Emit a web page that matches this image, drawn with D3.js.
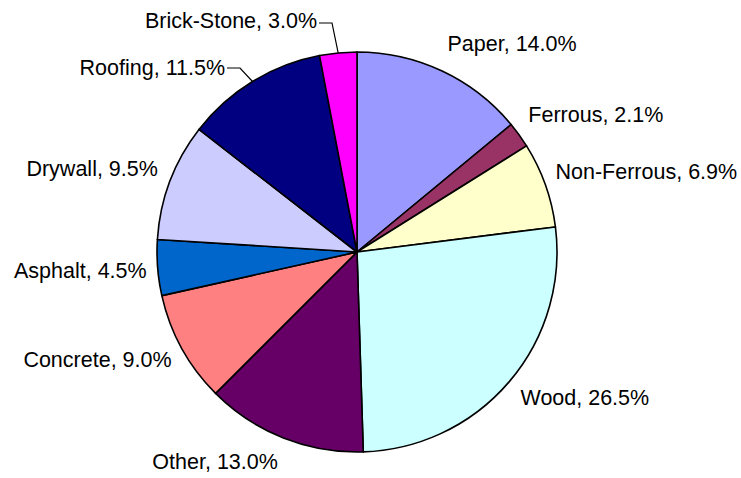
<!DOCTYPE html>
<html>
<head>
<meta charset="utf-8">
<script src="https://cdn.jsdelivr.net/npm/d3@7"></script>
<style>
  html, body { margin: 0; padding: 0; background: #fff; }
  text { font-family: "Liberation Sans", Arial, sans-serif; font-size: 21.5px; fill: #000; }
</style>
</head>
<body>
<svg id="chart" width="741" height="478"></svg>
<script>
// Waste composition by material (percent of total)
const categories = ["Paper", "Ferrous", "Non-Ferrous", "Wood", "Other", "Concrete", "Asphalt", "Drywall", "Roofing", "Brick-Stone"];
const shares = [14.0, 2.1, 6.9, 26.5, 13.0, 9.0, 4.5, 9.5, 11.5, 3.0];
const colors = ["#9999FF", "#993366", "#FFFFCC", "#CCFFFF", "#660066", "#FF8080", "#0066CC", "#CCCCFF", "#000080", "#FF00FF"];

const width = 741, height = 478;
const cx = 357, cy = 252, radius = 200;

const svg = d3.select("#chart");
const g = svg.append("g").attr("transform", `translate(${cx},${cy})`);

const data = categories.map((c, i) => ({ name: c, value: shares[i], color: colors[i] }));

const pie = d3.pie().value(d => d.value).sort(null);
const arc = d3.arc().innerRadius(0).outerRadius(radius);
const arcs = pie(data);

g.selectAll("path.slice")
  .data(arcs)
  .join("path")
  .attr("class", "slice")
  .attr("d", arc)
  .attr("fill", d => d.data.color)
  .attr("stroke", "#000")
  .attr("stroke-width", 1.6)
  .attr("stroke-linejoin", "round");

// Label placement: most labels sit just outside the rim at the slice midpoint;
// the two narrow top-left slices get leader lines.
const leaders = {
  "Brick-Stone": { textEnd: [317, 28], elbow: [332, 23], lineEnd: [319, 23] },
  "Roofing": { textEnd: [225, 75], elbow: [240, 68], lineEnd: [227, 68] }
};
const nudge = {
  "Paper": [-1, 0], "Ferrous": [-3, -2], "Non-Ferrous": [-4, -1], "Concrete": [3, 0], "Asphalt": [4, 3], "Drywall": [2, 0]
};

const fmt = d3.format(".1f");
const labelR = 215;

arcs.forEach(a => {
  const mid = (a.startAngle + a.endAngle) / 2;
  const label = `${a.data.name}, ${fmt(a.data.value)}%`;
  const lead = leaders[a.data.name];
  if (lead) {
    const px = cx + radius * Math.sin(mid), py = cy - radius * Math.cos(mid);
    svg.append("polyline")
      .attr("points", [[px, py], lead.elbow, lead.lineEnd].map(p => p.join(",")).join(" "))
      .attr("fill", "none")
      .attr("stroke", "#000")
      .attr("stroke-width", 1.2);
    svg.append("text")
      .attr("x", lead.textEnd[0])
      .attr("y", lead.textEnd[1])
      .attr("text-anchor", "end")
      .text(label);
    return;
  }
  const n = nudge[a.data.name] || [0, 0];
  const x = cx + labelR * Math.sin(mid) + n[0];
  const y = cy - labelR * Math.cos(mid) + 5 - 13 * Math.cos(mid) + n[1];
  svg.append("text")
    .attr("x", x)
    .attr("y", y)
    .attr("text-anchor", Math.sin(mid) >= 0 ? "start" : "end")
    .text(label);
});
</script>
</body>
</html>
